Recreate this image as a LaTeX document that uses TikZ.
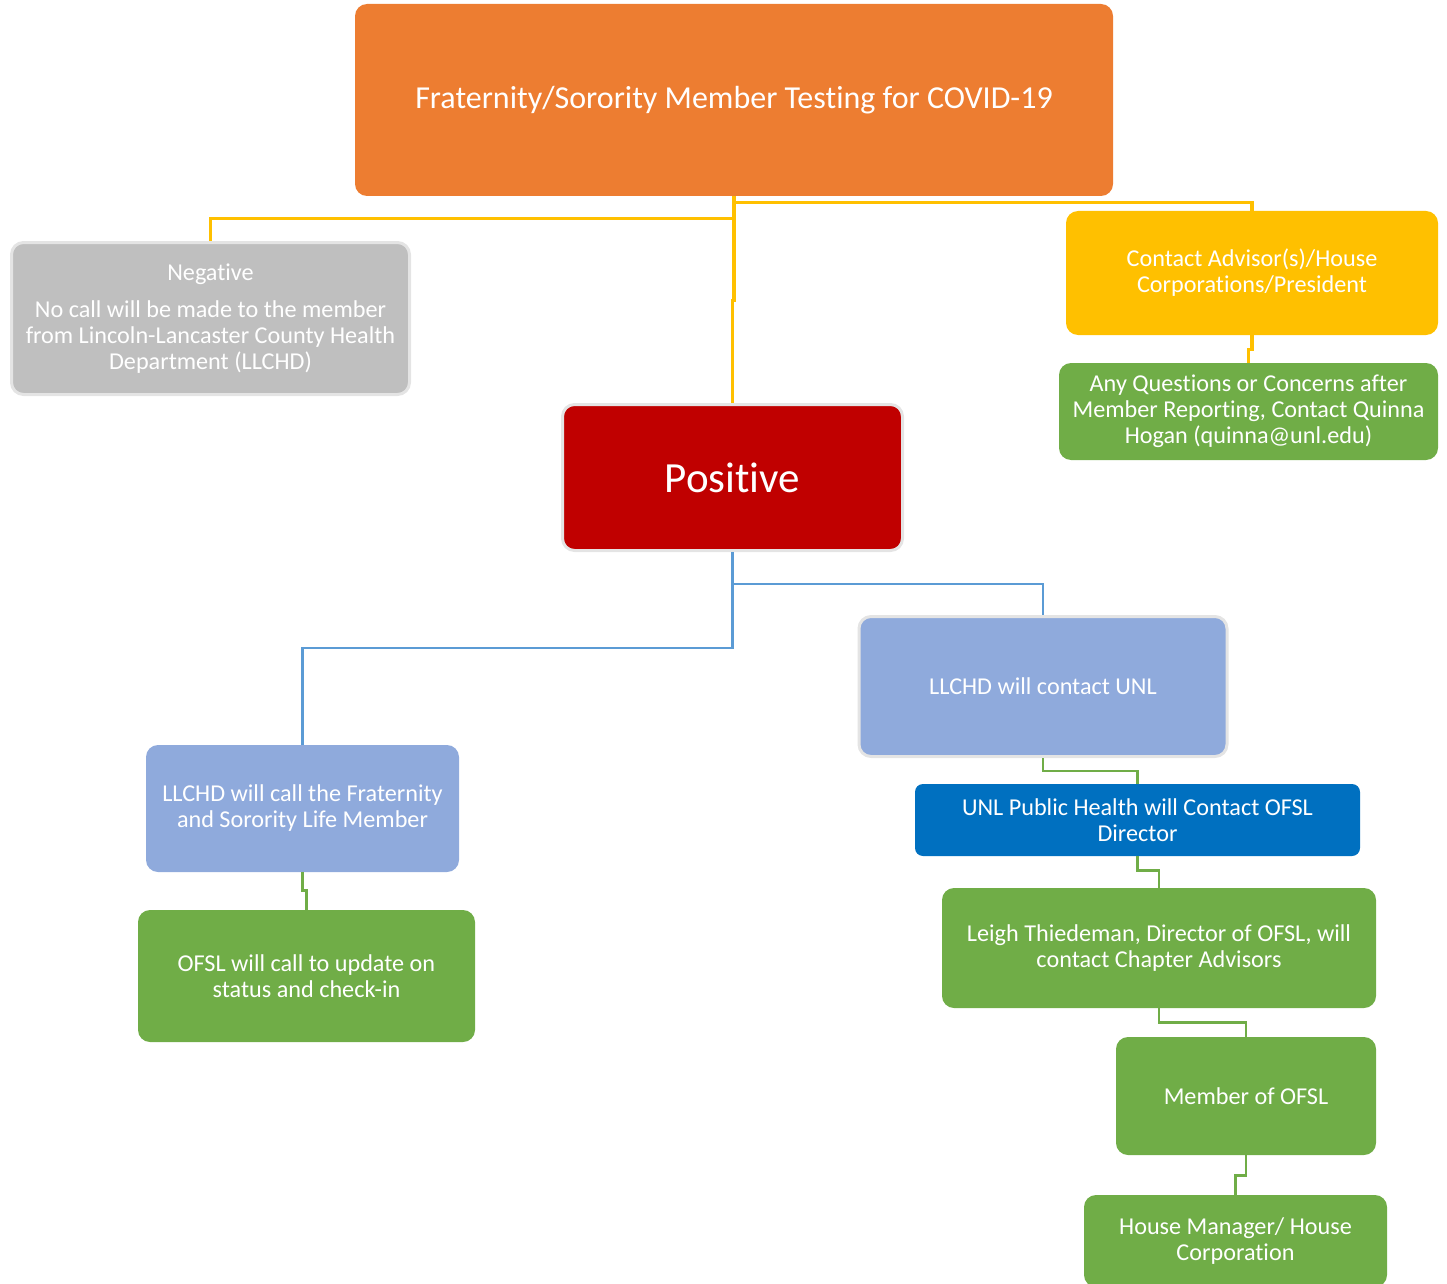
\documentclass[tikz,border=0pt]{standalone}
\usepackage{fontspec}
\setmainfont{Carlito}[Ligatures=NoCommon]
\definecolor{boxOrange}{HTML}{ED7D31}
\definecolor{boxGray}{HTML}{BFBFBF}
\definecolor{boxYellow}{HTML}{FFC000}
\definecolor{boxGreen}{HTML}{70AD47}
\definecolor{boxRed}{HTML}{C00000}
\definecolor{boxLight}{HTML}{8FAADC}
\definecolor{boxBlue}{HTML}{0070C0}
\definecolor{lineBlue}{HTML}{5B9BD5}
\definecolor{rimGray}{HTML}{E4E4E4}

\begin{document}
\begin{tikzpicture}[x=0.5pt,y=-0.5pt,
  box/.style={rectangle,rounded corners=6pt,text=white,align=center,inner sep=0pt,
    font=\fontsize{12.1}{13}\selectfont},
  rim/.style={draw=rimGray,line width=1.5pt},
  yline/.style={boxYellow,line width=1.6pt},
  bline/.style={lineBlue,line width=1.2pt},
  gline/.style={boxGreen,line width=1.3pt}]
\useasboundingbox (0,0) rectangle (1447,1284);
\node[box,fill=boxOrange,minimum width=379pt,minimum height=96pt,
  font=\fontsize{16}{19}\selectfont] (title) at (734,100)
  {Fraternity/Sorority Member Testing for COVID-19};
\node[box,rim,fill=boxGray,minimum width=199pt,minimum height=76pt] (neg) at (210.5,318.5)
  {Negative\\[5.5pt] No call will be made to the member\\from Lincoln-Lancaster County Health\\Department (LLCHD)};
\node[box,fill=boxYellow,minimum width=186pt,minimum height=62pt] (contact) at (1252,273)
  {Contact Advisor(s)/House\\Corporations/President};
\node[box,fill=boxGreen,minimum width=189.5pt,minimum height=48.5pt] (quest) at (1248.5,411.5)
  {Any Questions or Concerns after\\Member Reporting, Contact Quinna\\Hogan (quinna@unl.edu)};
\node[box,rim,fill=boxRed,minimum width=170pt,minimum height=73pt,
  font=\fontsize{21.5}{25}\selectfont] (pos) at (732.5,477.5) {Positive};
\node[box,rim,fill=boxLight,minimum width=184pt,minimum height=70pt] (unl) at (1043,686.5)
  {LLCHD will contact UNL};
\node[box,fill=boxLight,minimum width=156.5pt,minimum height=63.5pt] (call) at (302.5,808.5)
  {LLCHD will call the Fraternity\\and Sorority Life Member};
\node[box,fill=boxGreen,minimum width=168.5pt,minimum height=66pt] (ofsl) at (306.5,976)
  {OFSL will call to update on\\status and check-in};
\node[box,fill=boxBlue,rounded corners=4pt,minimum width=222.5pt,minimum height=36pt] (ph) at (1137.5,820)
  {UNL Public Health will Contact OFSL\\Director};
\node[box,fill=boxGreen,minimum width=217pt,minimum height=60pt] (leigh) at (1159,948)
  {Leigh Thiedeman, Director of OFSL, will\\contact Chapter Advisors};
\node[box,fill=boxGreen,minimum width=130pt,minimum height=59pt] (member) at (1246,1096)
  {Member of OFSL};
\node[box,fill=boxGreen,minimum width=151.5pt,minimum height=46pt] (house) at (1235.5,1241)
  {House Manager/ House\\Corporation};
% yellow branch
\draw[yline] (title.south) -- ++(0,22) -| (neg.north);
\draw[yline] (title.south) -- ++(0,6) -| (contact.north);
\draw[yline] (title.south) -- ++(0,104) -| (pos.north);
\draw[yline] (contact.south) -- ++(0,14) -| (quest.north);
% blue branch
\draw[bline] (pos.south) -- ++(0,32) -| (unl.north);
\draw[bline] (pos.south) -- ++(0,96) -| (call.north);
% green branch
\draw[gline] (call.south) -- ++(0,18) -| (ofsl.north);
\draw[gline] (unl.south) -- ++(0,13) -| (ph.north);
\draw[gline] (ph.south) -- ++(0,14) -| (leigh.north);
\draw[gline] (leigh.south) -- ++(0,14) -| (member.north);
\draw[gline] (member.south) -- ++(0,20) -| (house.north);
\end{tikzpicture}
\end{document}
